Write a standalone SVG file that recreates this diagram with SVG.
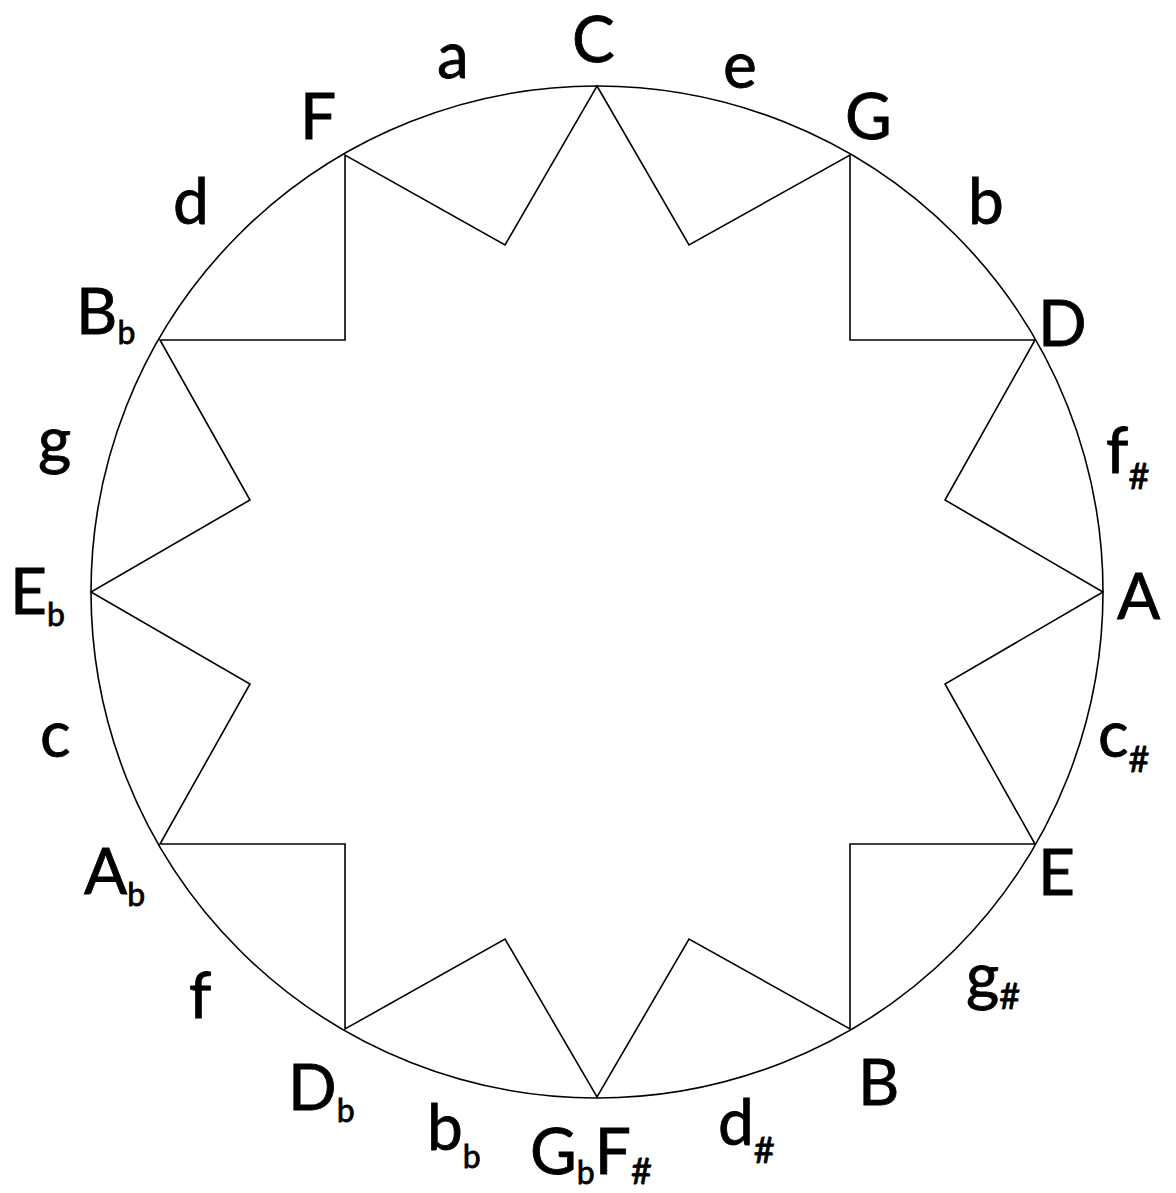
<svg xmlns="http://www.w3.org/2000/svg" width="1176" height="1193" viewBox="0 0 1176 1193">
<style>
.ln{fill:none;stroke:#000;stroke-width:1.6;stroke-linejoin:miter}
.t{font-family:Lato,"Open Sans","Liberation Sans",sans-serif;font-size:64px;fill:#000;stroke:#000;stroke-width:0.8}
.s{font-size:32px}
.h{font-size:36px}
</style>
<rect width="1176" height="1193" fill="#fff"/>
<g id="connectors">
<circle class="ln" cx="597" cy="592" r="506"/>
<polygon class="ln" points="597,86 689,245 850,155 850,340 1035,340 945,500 1103,592 945,684 1035,844 850,844 850,1029 689,939 597,1097 505,939 345,1029 345,844 160,844 250,684 91,592 250,500 160,340 345,340 345,155 505,245"/>
</g>
<g id="n-C"><text class="t" x="572" y="62">C</text></g>
<g id="n-a"><text class="t" x="437" y="78">a</text></g>
<g id="n-e"><text class="t" x="723" y="88">e</text></g>
<g id="n-F"><text class="t" x="300" y="139">F</text></g>
<g id="n-G"><text class="t" x="845" y="139">G</text></g>
<g id="n-d"><text class="t" x="173" y="224">d</text></g>
<g id="n-b"><text class="t" x="968" y="224">b</text></g>
<g id="n-Bb"><text class="t" x="76" y="334">B<tspan class="s" dy="10">b</tspan></text></g>
<g id="n-D"><text class="t" x="1038" y="346">D</text></g>
<g id="n-g"><text class="t" x="38" y="463">g</text></g>
<g id="n-fs"><text class="t" x="1106" y="473">f<tspan class="h" dy="16">#</tspan></text></g>
<g id="n-Eb"><text class="t" x="10" y="614">E<tspan class="s" dy="12">b</tspan></text></g>
<g id="n-A"><text class="t" x="1117" y="619">A</text></g>
<g id="n-c"><text class="t" x="40" y="757">c</text></g>
<g id="n-cs"><text class="t" x="1098" y="757">c<tspan class="h" dy="15">#</tspan></text></g>
<g id="n-Ab"><text class="t" x="84" y="894">A<tspan class="s" dy="12">b</tspan></text></g>
<g id="n-E"><text class="t" x="1038" y="895">E</text></g>
<g id="n-f"><text class="t" x="189" y="1018">f</text></g>
<g id="n-gs"><text class="t" x="966" y="999">g<tspan class="h" dy="10">#</tspan></text></g>
<g id="n-Db"><text class="t" x="288" y="1110">D<tspan class="s" dy="12">b</tspan></text></g>
<g id="n-B"><text class="t" x="858" y="1105">B</text></g>
<g id="n-bb"><text class="t" x="427" y="1150">b<tspan class="s" dy="18">b</tspan></text></g>
<g id="n-GbFs"><text class="t" x="530" y="1174">G<tspan class="s" dy="10">b</tspan><tspan dy="-10">F</tspan><tspan class="h" dy="10">#</tspan></text></g>
<g id="n-ds"><text class="t" x="718" y="1145">d<tspan class="h" dy="18">#</tspan></text></g>
</svg>
